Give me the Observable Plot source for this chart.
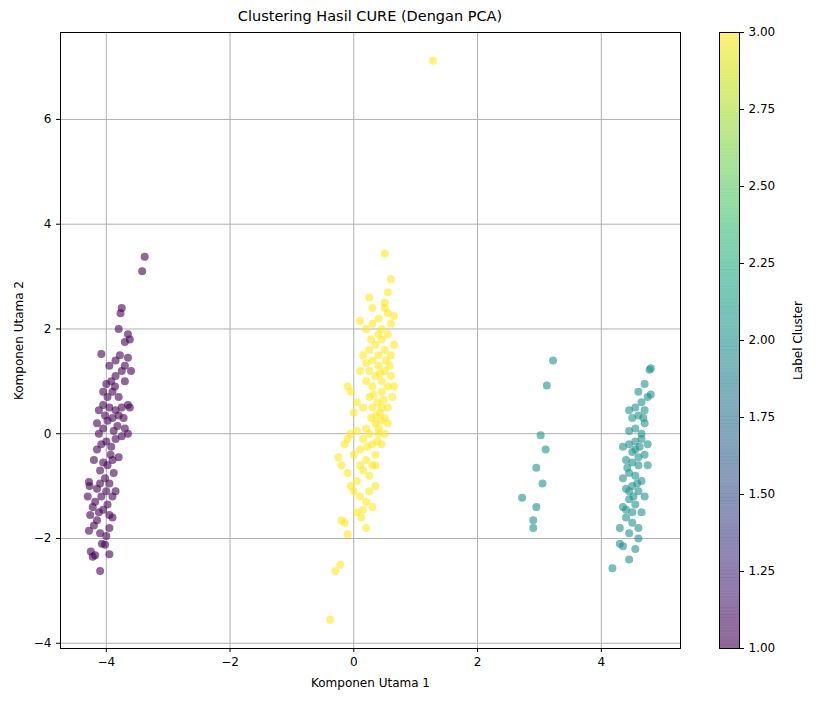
<!DOCTYPE html>
<html><head><meta charset="utf-8">
<script src="https://cdn.jsdelivr.net/npm/d3@7"></script>
<script src="https://cdn.jsdelivr.net/npm/@observablehq/plot@0.6"></script>
<style>body{margin:0;background:#fff;font-family:"DejaVu Sans",sans-serif}
#wrap{position:relative;width:819px;height:701px}
#title{position:absolute;top:8px;left:60px;width:620px;text-align:center;font-size:14.5px}
#cb{position:absolute;left:0;top:0}</style></head>
<body><div id="wrap"><div id="main"></div><div id="cb"></div><div id="title">Clustering Hasil CURE (Dengan PCA)</div></div>
<script>
const cluster1 = [[-4.1,-2.62],[-4.25,-2.25],[-4.18,-2.32],[-4.22,-2.35],[-3.95,-2.3],[-4.07,-2.1],[-4.02,-2.12],[-4.28,-1.85],[-4.2,-1.75],[-4.15,-1.65],[-4.1,-1.9],[-4.0,-1.95],[-3.95,-1.8],[-3.9,-1.6],[-4.26,-1.55],[-4.22,-1.4],[-4.18,-1.3],[-4.12,-1.5],[-4.05,-1.45],[-3.98,-1.35],[-3.9,-1.2],[-3.85,-1.1],[-4.27,-1.0],[-4.28,-0.92],[-4.15,-1.05],[-4.1,-0.95],[-4.02,-0.85],[-3.95,-0.95],[-3.88,-0.75],[-4.1,-0.7],[-4.05,-0.55],[-3.98,-0.6],[-3.9,-0.5],[-3.8,-0.45],[-4.15,-0.3],[-4.08,-0.2],[-4.0,-0.15],[-3.92,-0.25],[-3.85,-0.1],[-3.75,-0.05],[-4.15,0.2],[-4.05,0.1],[-3.98,0.25],[-3.9,0.3],[-3.82,0.15],[-3.7,0.1],[-3.65,0.0],[-4.12,0.45],[-4.05,0.55],[-3.95,0.5],[-3.85,0.45],[-3.75,0.5],[-3.65,0.55],[-3.62,0.5],[-4.05,0.8],[-3.98,0.7],[-3.9,0.8],[-3.8,0.7],[-4.0,0.95],[-3.92,1.0],[-3.85,1.1],[-3.7,1.0],[-3.95,1.3],[-3.85,1.4],[-3.78,1.5],[-3.7,1.3],[-3.65,1.45],[-3.6,1.2],[-4.08,1.52],[-3.8,2.0],[-3.65,1.9],[-3.62,1.8],[-3.7,1.75],[-3.75,2.4],[-3.77,2.3],[-3.42,3.1],[-3.38,3.38],[-4.3,-1.2],[-4.2,-0.5],[-4.12,0.0],[-4.0,-1.1],[-3.93,-0.4],[-3.88,0.05],[-3.8,0.35],[-3.72,0.3],[-3.95,-1.55],[-4.08,-1.2],[-3.86,0.9],[-3.75,1.2],[-4.02,0.35]];
const cluster2 = [[2.72,-1.22],[2.9,-1.65],[2.9,-1.8],[2.95,-1.4],[2.95,-0.65],[3.05,-0.95],[3.02,-0.03],[3.1,-0.3],[3.12,0.92],[3.22,1.4],[4.18,-2.57],[4.45,-2.4],[4.3,-2.1],[4.35,-2.15],[4.55,-2.2],[4.6,-2.0],[4.3,-1.8],[4.45,-1.9],[4.6,-1.8],[4.4,-1.6],[4.5,-1.5],[4.35,-1.4],[4.45,-1.25],[4.55,-1.35],[4.65,-1.5],[4.4,-1.05],[4.5,-1.0],[4.6,-1.1],[4.7,-1.2],[4.35,-0.85],[4.45,-0.75],[4.55,-0.8],[4.65,-0.9],[4.75,-0.6],[4.4,-0.5],[4.5,-0.55],[4.6,-0.45],[4.7,-0.4],[4.35,-0.25],[4.45,-0.2],[4.55,-0.15],[4.65,-0.1],[4.75,-0.2],[4.45,0.05],[4.55,0.1],[4.65,0.0],[4.7,0.2],[4.5,0.3],[4.6,0.35],[4.7,0.45],[4.45,0.45],[4.55,0.5],[4.65,0.6],[4.75,0.7],[4.8,0.75],[4.6,0.8],[4.7,0.95],[4.78,1.22],[4.8,1.25],[4.4,-1.45],[4.5,-1.7],[4.6,-0.6],[4.5,-0.35],[4.45,-1.1],[4.55,-0.3],[4.58,-0.95],[4.62,-0.25],[4.52,-1.2],[4.68,0.3],[4.42,-0.65]];
const cluster3 = [[1.28,7.12],[0.5,3.44],[-0.38,-3.55],[-0.3,-2.62],[-0.22,-2.5],[-0.1,-1.92],[-0.15,-1.7],[-0.2,-1.65],[0.2,-1.8],[-0.1,-0.1],[-0.05,0.0],[-0.25,-0.45],[-0.2,-0.6],[-0.1,-0.75],[-0.05,-1.0],[0.0,-0.4],[0.05,-0.9],[0.1,-1.2],[0.05,-1.5],[0.12,-1.6],[0.2,-1.3],[0.25,-1.1],[0.3,-1.4],[0.35,-1.0],[0.15,-0.7],[0.2,-0.5],[0.1,-0.3],[0.25,-0.8],[0.3,-0.6],[0.35,-0.4],[0.15,-0.1],[0.2,0.1],[0.25,0.0],[0.3,-0.2],[0.35,0.2],[0.4,0.1],[0.28,0.3],[0.0,0.4],[0.05,0.6],[-0.1,0.9],[-0.05,0.8],[0.15,0.5],[0.25,0.7],[0.3,0.5],[0.38,0.6],[0.42,0.4],[0.45,0.8],[0.5,0.3],[0.55,0.5],[0.5,0.0],[0.45,-0.2],[0.2,1.0],[0.25,1.2],[0.3,0.9],[0.35,1.1],[0.4,1.3],[0.45,1.0],[0.5,1.2],[0.55,0.9],[0.6,1.1],[0.15,1.5],[0.25,1.6],[0.3,1.4],[0.35,1.7],[0.4,1.5],[0.45,1.8],[0.5,1.6],[0.55,1.9],[0.6,1.5],[0.65,1.7],[0.1,2.15],[0.2,2.0],[0.3,2.1],[0.4,2.2],[0.45,2.0],[0.5,2.4],[0.55,2.3],[0.6,2.1],[0.65,2.25],[0.25,2.6],[0.3,2.4],[0.55,2.7],[0.6,2.95],[0.5,2.5],[0.62,0.7],[0.65,0.9],[0.4,0.0],[0.35,-0.6],[0.1,-0.6],[0.0,-1.1],[0.15,-1.45],[0.45,0.5],[0.55,0.2],[0.28,1.8],[0.2,1.35],[0.1,1.2],[-0.15,-0.2],[0.05,0.05],[0.32,0.75],[0.42,1.15],[0.48,0.65],[0.38,-0.15],[0.22,-0.25],[0.52,1.4],[0.36,0.35],[0.44,0.25],[0.58,1.3],[0.4,1.9]];
const xTicks=[-4,-2,0,2,4], yTicks=[-4,-2,0,2,4,6];
const cbTicks=[1,1.25,1.5,1.75,2,2.25,2.5,2.75,3];

const pts=[...cluster1.map(d=>({x:d[0],y:d[1],c:1})),...cluster2.map(d=>({x:d[0],y:d[1],c:2})),...cluster3.map(d=>({x:d[0],y:d[1],c:3}))];
const col=c=>d3.interpolateViridis((c-1)/2);
const fmt=d=>d<0?"\u2212"+(-d):String(d);
const main=Plot.plot({width:819,height:701,marginLeft:60,marginRight:139,marginTop:32,marginBottom:53,
 style:{fontFamily:"DejaVu Sans",fontSize:"11px",color:"#000"},
 x:{domain:[-4.74,5.28]},
 y:{domain:[-4.1,7.66]},
 marks:[
  Plot.gridX(xTicks,{stroke:"#b0b0b0",strokeOpacity:1}),
  Plot.gridY(yTicks,{stroke:"#b0b0b0",strokeOpacity:1}),
  Plot.dot(pts,{x:"x",y:"y",r:4,fill:d=>col(d.c),fillOpacity:0.6}),
  Plot.frame({stroke:"#000"}),
  Plot.axisX(xTicks,{tickSize:4,fontSize:12,tickFormat:fmt,label:"Komponen Utama 1",labelAnchor:"center",labelArrow:"none",labelOffset:38}),
  Plot.axisY(yTicks,{tickSize:4,fontSize:12,tickFormat:fmt,label:"Komponen Utama 2",labelAnchor:"center",labelArrow:"none",labelOffset:46})
 ]});
document.getElementById("main").append(main);
const bands=d3.range(1,3,0.01).map(v=>({v}));
const cb=Plot.plot({width:819,height:701,marginLeft:719,marginRight:80,marginTop:32,marginBottom:53,
 style:{fontFamily:"DejaVu Sans",fontSize:"11px",background:"transparent"},
 x:{domain:[0,1],axis:null},
 y:{domain:[1,3]},
 marks:[
  Plot.rect(bands,{x1:0,x2:1,y1:"v",y2:d=>d.v+0.0105,fill:d=>col(d.v),fillOpacity:0.6}),
  Plot.frame({stroke:"#000"}),
  Plot.axisY(cbTicks,{anchor:"right",tickSize:4,fontSize:12,tickFormat:d3.format(".2f"),label:"Label Cluster",labelAnchor:"center",labelArrow:"none",labelOffset:62})
 ]});
document.getElementById("cb").append(cb);
</script></body></html>
